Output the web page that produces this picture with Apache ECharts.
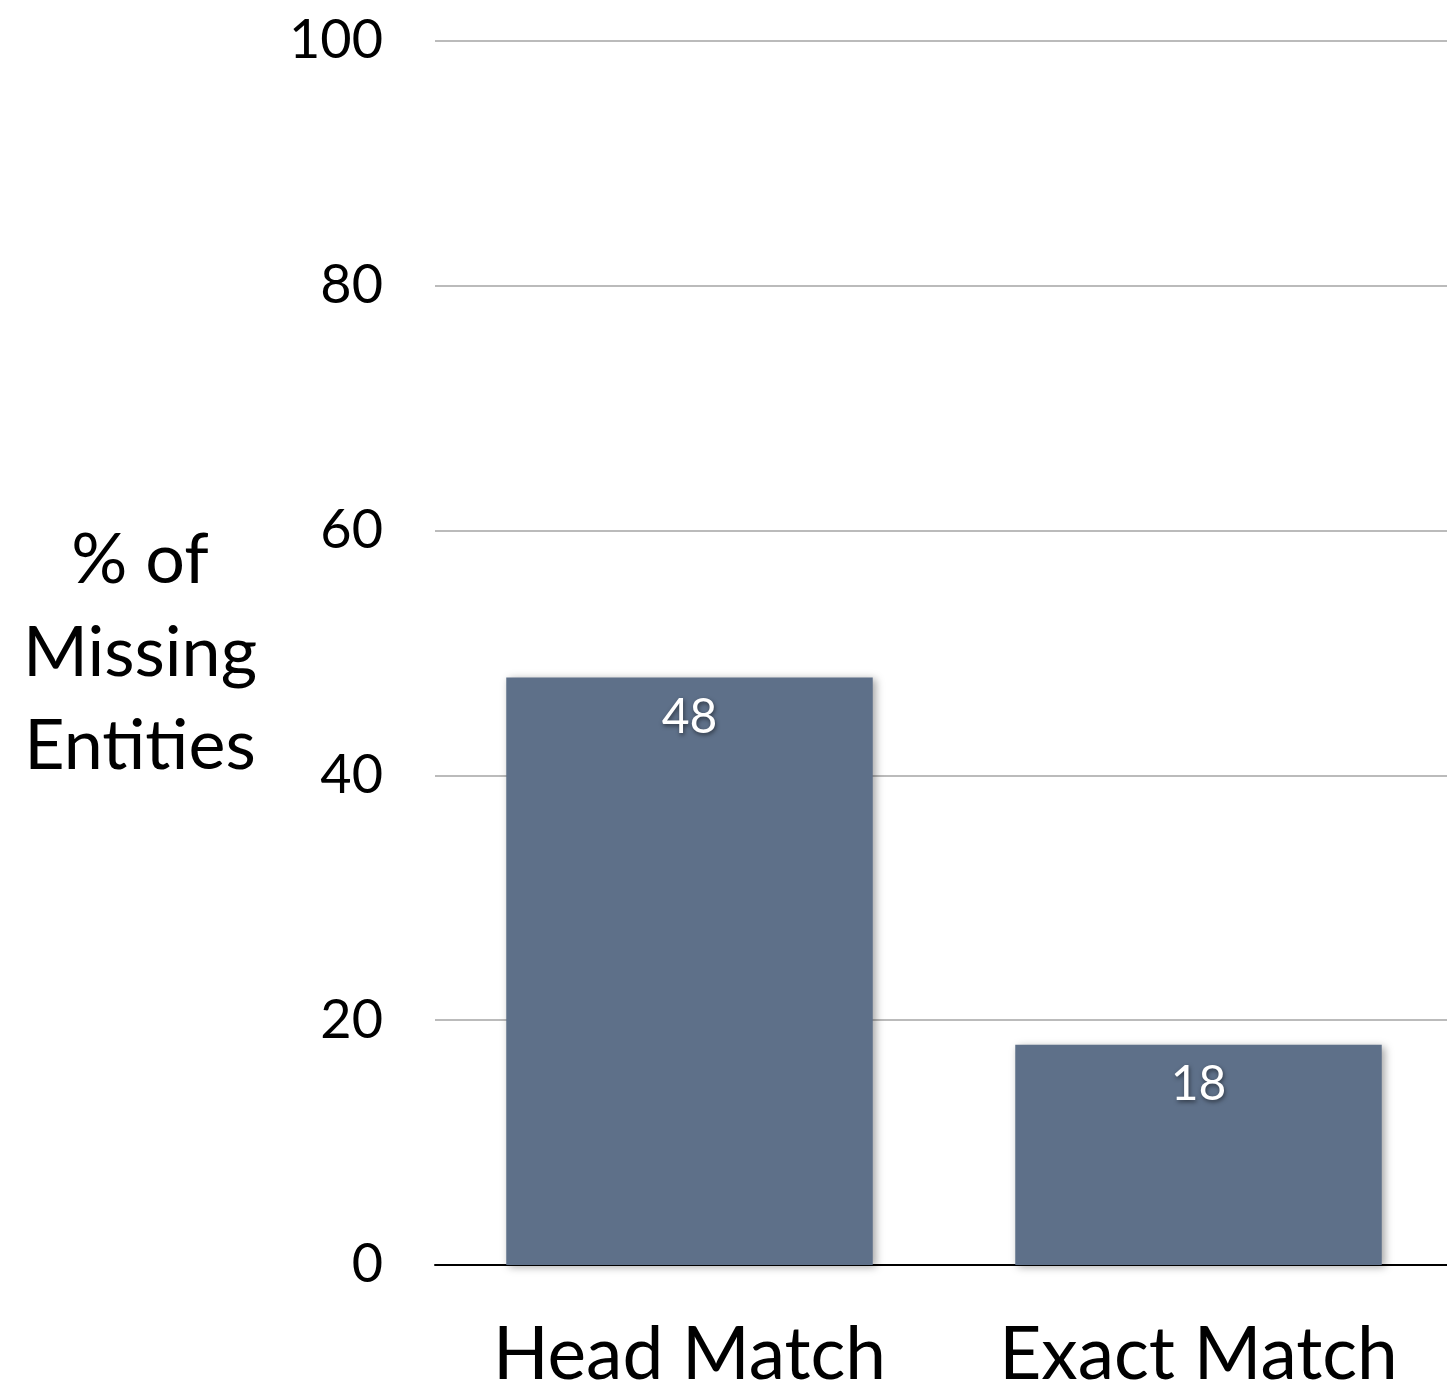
<!DOCTYPE html>
<html>
<head>
<meta charset="utf-8">
<script src="https://cdn.jsdelivr.net/npm/echarts@6/dist/echarts.min.js"></script>
<style>
html,body{margin:0;padding:0;background:#fff;}
#chart{width:1447px;height:1390px;}
</style>
</head>
<body>
<div id="chart"></div>
<script>
const categories = ['Head Match', 'Exact Match'];
const values = [48, 18];
const yTicks = [0, 20, 40, 60, 80, 100];
const yAxisName = '% of\nMissing\nEntities';

const FONT = 'Lato, "Open Sans", sans-serif';
const chart = echarts.init(document.getElementById('chart'), null, {renderer: 'canvas'});
chart.setOption({
  animation: false,
  backgroundColor: '#ffffff',
  grid: {left: 435, right: -6, top: 41, bottom: 125, containLabel: false, outerBoundsMode: 'none'},
  xAxis: {
    type: 'category',
    data: categories,
    axisLine: {show: true, lineStyle: {color: '#000', width: 2}},
    axisTick: {show: false},
    axisLabel: {color: '#000', fontSize: 73, fontFamily: FONT, margin: 54, interval: 0, hideOverlap: false}
  },
  yAxis: {
    type: 'value',
    min: yTicks[0],
    max: yTicks[yTicks.length - 1],
    interval: yTicks[1] - yTicks[0],
    name: yAxisName,
    nameLocation: 'middle',
    nameRotate: 0,
    nameGap: 295,
    nameTextStyle: {color: '#000', fontSize: 70, fontFamily: FONT, align: 'center', lineHeight: 93},
    axisLine: {show: false},
    axisTick: {show: false},
    axisLabel: {color: '#000', fontSize: 54, fontFamily: FONT, margin: 52},
    splitLine: {show: true, lineStyle: {color: '#bbbbbb', width: 2}}
  },
  series: [{
    type: 'bar',
    data: values,
    barWidth: '72%',
    itemStyle: {
      color: '#5e7089',
      shadowColor: 'rgba(0,0,0,0.35)',
      shadowBlur: 8,
      shadowOffsetX: 3,
      shadowOffsetY: 2
    },
    label: {
      show: true,
      position: 'insideTop',
      distance: 16,
      color: '#fff',
      fontSize: 48,
      fontFamily: FONT,
      textShadowColor: 'rgba(0,0,0,0.5)',
      textShadowBlur: 4,
      textShadowOffsetX: 1,
      textShadowOffsetY: 2
    }
  }]
});
</script>
</body>
</html>
